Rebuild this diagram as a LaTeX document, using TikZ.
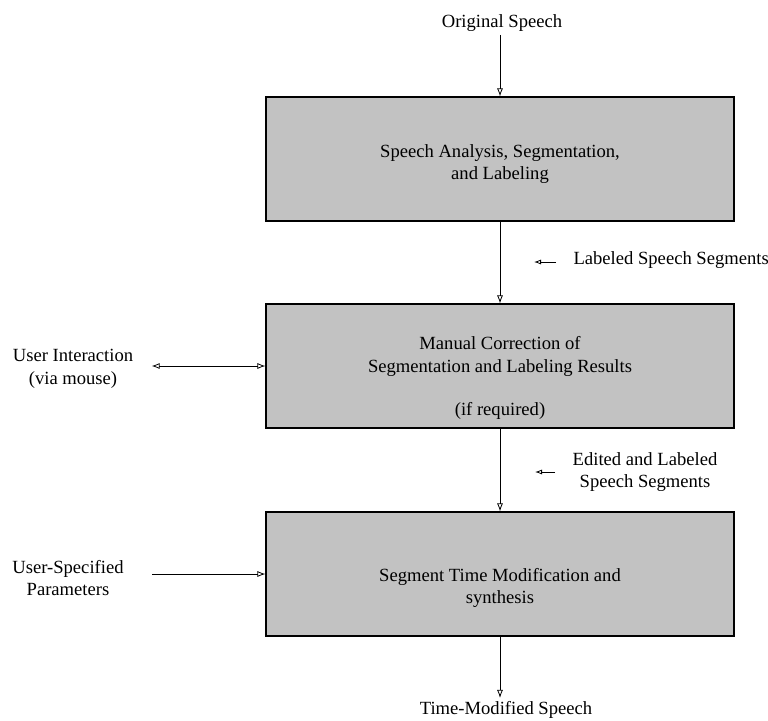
\documentclass[tikz,border=0pt]{standalone}
\usepackage{fontspec}
\setmainfont{Liberation Serif}
\usetikzlibrary{arrows.meta}

\tikzset{
  stage/.style={draw, line width=1.2pt, fill=black!24, minimum width=468pt, minimum height=124pt},
  flow/.style={-{Latex[open,length=8pt,width=6pt]}, line width=0.8pt},
  twoway/.style={{Latex[open,length=8pt,width=6pt]}-{Latex[open,length=8pt,width=6pt]}, line width=0.8pt},
  hint/.style={-{Latex[open,length=7pt,width=5pt]}, line width=0.8pt}
}

\begin{document}
\begin{tikzpicture}[x=1pt,y=-1pt,font=\fontsize{18.6}{22.5}\selectfont]
\useasboundingbox (0,0) rectangle (768,720);

% inputs and outputs
\node (orig) at (502,23) {Original Speech};
\node (out) at (506,710) {Time-Modified Speech};

% the three stages
\node[stage] (analysis) at (500,159) {};
\node[align=center] (analysistxt) at (500,164) {Speech Analysis, Segmentation,\\and Labeling};

\node[stage] (correct) at (500,366) {};
\node[align=center] (correcttxt) at (500,378) {Manual Correction of\\Segmentation and Labeling Results\\[21pt](if required)};

\node[stage] (synth) at (500,574) {};
\node[align=center] (synthtxt) at (500,588) {Segment Time Modification and\\synthesis};

% side texts
\node[anchor=west] (labeled) at (570,260) {Labeled Speech Segments};
\node[align=center] (edited) at (645,472) {Edited and Labeled\\Speech Segments};
\node[align=center] (user) at (73,369) {User Interaction\\(via mouse)};
\node[align=center] (params) at (68,578) {User-Specified\\Parameters};

% main flow
\draw[flow] (orig.south -| analysis.north) -- (analysis.north);
\draw[flow] (analysis) -- (correct);
\draw[flow] (correct) -- (synth);
\draw[flow] (synth.south) -- (synth.south |- out.north);

% user side
\draw[twoway] ([xshift=15pt]user.east |- correct.west) -- (correct.west);
\draw[flow] ([xshift=25pt]params.east |- synth.west) -- (synth.west);

% pointers from the labels
\coordinate (labeledtip) at (534,262);
\draw[hint] ([xshift=-14pt]labeled.west |- labeledtip) -- (labeledtip);
\coordinate (editedtip) at (535,472);
\draw[hint] ([xshift=-14pt]edited.west |- editedtip) -- (editedtip);
\end{tikzpicture}
\end{document}
